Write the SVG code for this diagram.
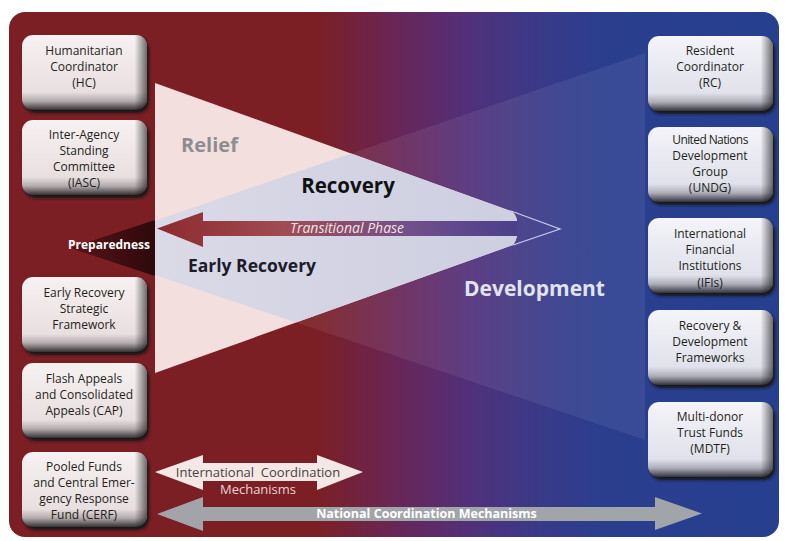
<svg xmlns="http://www.w3.org/2000/svg" width="785" height="541" viewBox="0 0 785 541">
<style>
.bt{font-family:"Open Sans","Liberation Sans",sans-serif;font-size:12px;fill:#231f20;text-anchor:middle}
.big{font-family:"Open Sans","Liberation Sans",sans-serif;font-weight:bold;text-anchor:middle}
.shd{fill:#151515;filter:url(#blur)}
.lb{fill:url(#gL)}
.rb{fill:url(#gR)}
.edge{fill:url(#gEdge)}
</style>
<defs>
<linearGradient id="bg" gradientUnits="userSpaceOnUse" x1="9" y1="0" x2="779" y2="0">
<stop offset="0" stop-color="#7b1f25"/>
<stop offset="0.40" stop-color="#7b1f25"/>
<stop offset="0.508" stop-color="#682659"/>
<stop offset="0.598" stop-color="#51307a"/>
<stop offset="0.69" stop-color="#393a88"/>
<stop offset="0.768" stop-color="#2b3e8e"/>
<stop offset="1" stop-color="#263f8f"/>
</linearGradient>
<linearGradient id="gL" x1="0" y1="0" x2="0" y2="1">
<stop offset="0" stop-color="#f7f1f1"/>
<stop offset="0.76" stop-color="#e8dfe0"/>
<stop offset="0.88" stop-color="#b3abad"/>
<stop offset="1" stop-color="#353133"/>
</linearGradient>
<linearGradient id="gR" x1="0" y1="0" x2="0" y2="1">
<stop offset="0" stop-color="#f4f4f9"/>
<stop offset="0.76" stop-color="#e0e1ea"/>
<stop offset="0.88" stop-color="#adaeb9"/>
<stop offset="1" stop-color="#33343c"/>
</linearGradient>
<linearGradient id="gEdge" x1="0" y1="0" x2="1" y2="0">
<stop offset="0" stop-color="#000" stop-opacity="0"/>
<stop offset="0.9" stop-color="#000" stop-opacity="0"/>
<stop offset="1" stop-color="#000" stop-opacity="0.55"/>
</linearGradient>
<linearGradient id="gTrans" gradientUnits="userSpaceOnUse" x1="157" y1="0" x2="517" y2="0">
<stop offset="0" stop-color="#8c2a2e"/>
<stop offset="0.35" stop-color="#a04c52"/>
<stop offset="0.7" stop-color="#72508a"/>
<stop offset="1" stop-color="#4a3f8c"/>
</linearGradient>
<linearGradient id="gPrep" gradientUnits="userSpaceOnUse" x1="70" y1="0" x2="155" y2="0">
<stop offset="0" stop-color="#5a1418"/>
<stop offset="1" stop-color="#2e090c"/>
</linearGradient>
<linearGradient id="gOver" gradientUnits="userSpaceOnUse" x1="155" y1="0" x2="517" y2="0">
<stop offset="0" stop-color="#dadae7"/>
<stop offset="1" stop-color="#cdcee0"/>
</linearGradient>
<clipPath id="reliefClip">
<path d="M155,83 L511,211 Q516,214 517,221 L517,236 Q516,241 513,245 L155,373 Z"/>
</clipPath>
<clipPath id="rightOf155">
<rect x="155" y="0" width="500" height="541"/>
</clipPath>
<filter id="blur" x="-10%" y="-10%" width="125%" height="130%">
<feGaussianBlur stdDeviation="1.6"/>
</filter>
</defs>

<rect x="0" y="0" width="785" height="541" fill="#ffffff"/>
<rect id="background" x="9" y="12" width="770" height="525" rx="16" ry="16" fill="url(#bg)"/>

<g id="phases">
<polygon points="75,248 645,53 645,440" fill="#ffffff" fill-opacity="0.07" clip-path="url(#rightOf155)"/>
<path d="M155,83 L511,211 Q516,214 517,221 L517,236 Q516,241 513,245 L155,373 Z" fill="#f2dfde"/>
<polygon points="75,248 645,53 645,440" fill="url(#gOver)" clip-path="url(#reliefClip)"/>
<polygon points="70,248 155,220 155,276" fill="url(#gPrep)"/>
<polyline points="511,211 560,229 513,245" fill="none" stroke="#c9cdea" stroke-width="1.2"/>
<text class="big" x="209.5" y="152" font-size="20" fill="#8d8d90">Relief</text>
<text class="big" x="348" y="193" font-size="20.5" fill="#111111">Recovery</text>
<text class="big" x="252" y="272" font-size="17.5" fill="#1c1c2a">Early Recovery</text>
<text class="big" x="109" y="249" font-size="12" fill="#ffffff">Preparedness</text>
<text class="big" x="534.5" y="296" font-size="21" fill="#e2e3f0">Development</text>
</g>

<g id="connectors">
<path d="M157,228.5 L203,212 L203,221 L517,221 L517,236 L203,236 L203,247 Z" fill="url(#gTrans)"/>
<text x="347" y="233" font-family="'Open Sans','Liberation Sans',sans-serif" font-style="italic" font-size="14" fill="#f3e3e3" text-anchor="middle">Transitional Phase</text>
<path d="M155,472 L203,455 L203,463 L317,463 L317,455 L363,472 L317,490 L317,481 L203,481 L203,490 Z" fill="#f4e8e6"/>
<text x="258" y="476.5" font-family="'Open Sans','Liberation Sans',sans-serif" font-size="13" fill="#4a4244" text-anchor="middle" xml:space="preserve">International  Coordination</text>
<text x="258" y="494" font-family="'Open Sans','Liberation Sans',sans-serif" font-size="13" fill="#ecd3d3" text-anchor="middle">Mechanisms</text>
<path d="M157,514 L203,497 L203,507 L655,507 L655,497 L702,513.5 L655,530 L655,521 L203,521 L203,531 Z" fill="#a1a4a9"/>
<text class="big" x="426.5" y="518" font-size="12.5" fill="#ffffff">National Coordination Mechanisms</text>
</g>

<g id="hc">
<rect class="shd" x="24" y="38" width="125" height="75" rx="11"/>
<rect class="lb" x="22" y="35" width="125" height="75" rx="11"/>
<rect class="edge" x="22" y="35" width="125" height="75" rx="11"/>
<text class="bt" x="84" y="55">Humanitarian</text>
<text class="bt" x="84" y="71">Coordinator</text>
<text class="bt" x="84" y="87">(HC)</text>
</g>
<g id="iasc">
<rect class="shd" x="24" y="123" width="125" height="75" rx="11"/>
<rect class="lb" x="22" y="120" width="125" height="75" rx="11"/>
<rect class="edge" x="22" y="120" width="125" height="75" rx="11"/>
<text class="bt" x="84" y="139">Inter-Agency</text>
<text class="bt" x="84" y="155">Standing</text>
<text class="bt" x="84" y="171">Committee</text>
<text class="bt" x="84" y="187">(IASC)</text>
</g>
<g id="ersf">
<rect class="shd" x="24" y="280" width="125" height="75" rx="11"/>
<rect class="lb" x="22" y="277" width="125" height="75" rx="11"/>
<rect class="edge" x="22" y="277" width="125" height="75" rx="11"/>
<text class="bt" x="84" y="297">Early Recovery</text>
<text class="bt" x="84" y="313">Strategic</text>
<text class="bt" x="84" y="329">Framework</text>
</g>
<g id="cap">
<rect class="shd" x="24" y="366" width="125" height="75" rx="11"/>
<rect class="lb" x="22" y="363" width="125" height="75" rx="11"/>
<rect class="edge" x="22" y="363" width="125" height="75" rx="11"/>
<text class="bt" x="84" y="383">Flash Appeals</text>
<text class="bt" x="84" y="399">and Consolidated</text>
<text class="bt" x="84" y="415">Appeals (CAP)</text>
</g>
<g id="cerf">
<rect class="shd" x="24" y="455" width="125" height="75" rx="11"/>
<rect class="lb" x="22" y="452" width="125" height="75" rx="11"/>
<rect class="edge" x="22" y="452" width="125" height="75" rx="11"/>
<text class="bt" x="84" y="471">Pooled Funds</text>
<text class="bt" x="84" y="487">and Central Emer-</text>
<text class="bt" x="84" y="503">gency Response</text>
<text class="bt" x="84" y="519">Fund (CERF)</text>
</g>

<g id="rc">
<rect class="shd" x="650" y="39" width="125" height="75" rx="11"/>
<rect class="rb" x="648" y="36" width="125" height="75" rx="11"/>
<rect class="edge" x="648" y="36" width="125" height="75" rx="11"/>
<text class="bt" x="710" y="55">Resident</text>
<text class="bt" x="710" y="71">Coordinator</text>
<text class="bt" x="710" y="87">(RC)</text>
</g>
<g id="undg">
<rect class="shd" x="650" y="130" width="125" height="75" rx="11"/>
<rect class="rb" x="648" y="127" width="125" height="75" rx="11"/>
<rect class="edge" x="648" y="127" width="125" height="75" rx="11"/>
<text class="bt" x="710" y="144" letter-spacing="-0.6">United Nations</text>
<text class="bt" x="710" y="160">Development</text>
<text class="bt" x="710" y="176">Group</text>
<text class="bt" x="710" y="192" font-size="10">(UNDG)</text>
</g>
<g id="ifis">
<rect class="shd" x="650" y="221" width="125" height="75" rx="11"/>
<rect class="rb" x="648" y="218" width="125" height="75" rx="11"/>
<rect class="edge" x="648" y="218" width="125" height="75" rx="11"/>
<text class="bt" x="710" y="238">International</text>
<text class="bt" x="710" y="254">Financial</text>
<text class="bt" x="710" y="270">Institutions</text>
<text class="bt" x="710" y="287">(IFIs)</text>
</g>
<g id="rdf">
<rect class="shd" x="650" y="313" width="125" height="75" rx="11"/>
<rect class="rb" x="648" y="310" width="125" height="75" rx="11"/>
<rect class="edge" x="648" y="310" width="125" height="75" rx="11"/>
<text class="bt" x="710" y="330">Recovery &amp;</text>
<text class="bt" x="710" y="346">Development</text>
<text class="bt" x="710" y="362">Frameworks</text>
</g>
<g id="mdtf">
<rect class="shd" x="650" y="405" width="125" height="75" rx="11"/>
<rect class="rb" x="648" y="402" width="125" height="75" rx="11"/>
<rect class="edge" x="648" y="402" width="125" height="75" rx="11"/>
<text class="bt" x="710" y="421">Multi-donor</text>
<text class="bt" x="710" y="437">Trust Funds</text>
<text class="bt" x="710" y="453">(MDTF)</text>
</g>
</svg>
